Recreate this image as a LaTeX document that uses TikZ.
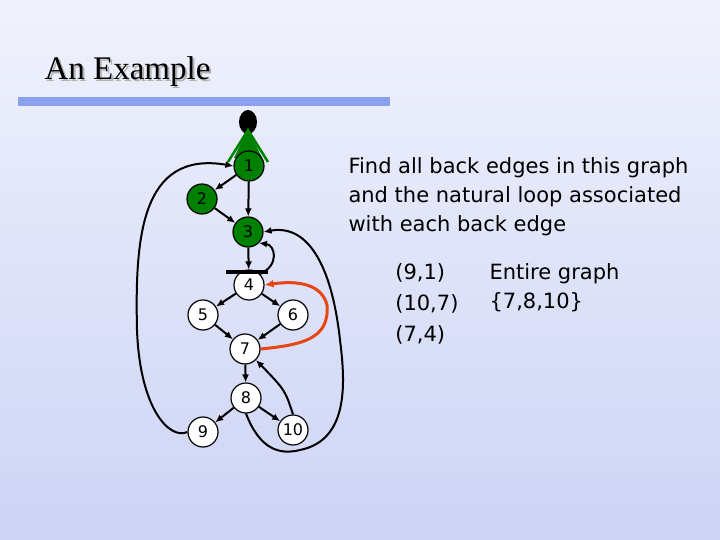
\documentclass[tikz,border=0pt]{standalone}
\usepackage{fontspec}
\setmainfont{Liberation Serif}
\newfontfamily\tah{DejaVu Sans}
\usetikzlibrary{arrows.meta}
\definecolor{gr}{RGB}{0,128,0}
\definecolor{bar}{RGB}{140,160,240}
\definecolor{top}{RGB}{240,242,252}
\definecolor{bot}{RGB}{205,212,245}
\definecolor{rd}{RGB}{230,70,20}
\begin{document}
\begin{tikzpicture}[x=1pt,y=-1pt,
  nd/.style={circle,draw=black,line width=1.2pt,minimum size=30pt,inner sep=0pt,font=\tah\fontsize{16}{16}\selectfont},
  gn/.style={nd,fill=gr},
  wn/.style={nd,fill=white},
  ed/.style={-{Latex[length=8pt,width=7pt]},line width=2pt}]
\shade[top color=top,bottom color=bot] (0,0) rectangle (720,540);
\useasboundingbox (0,0) rectangle (720,540);
\node[anchor=west,font=\fontsize{33}{33}\selectfont,text=gray!60] at (43,74) {An Example};
\node[anchor=west,font=\fontsize{33}{33}\selectfont] (title) at (41,72) {An Example};
\fill[bar] (18,97) rectangle (390,106);
\fill[black] (248,122) ellipse (9 and 12);
\fill[gr] (248,128) -- (262,158) -- (234,158) -- cycle;
\draw[gr,line width=2.5pt] (228,162) -- (248,130) -- (268,162);
\node[gn] (n1) at (249,166) {1};
\node[gn] (n2) at (202,199) {2};
\node[gn] (n3) at (248,232) {3};
\node[wn] (n4) at (249,285) {4};
\node[wn] (n5) at (203,315) {5};
\node[wn] (n6) at (293,315) {6};
\node[wn] (n7) at (245,349) {7};
\node[wn] (n8) at (246,398) {8};
\node[wn] (n9) at (203,432) {9};
\node[wn] (n10) at (293,430) {10};
\coordinate (b1) at (226,272); \coordinate (b2) at (268,272);
\draw[line width=3.5pt] (b1) -- (b2);
\draw[ed] (n1) -- (n2);
\draw[ed] (n1) -- (n3);
\draw[ed] (n2) -- (n3);
\draw[ed] (n3) -- (n4);
\draw[ed] (n4) -- (n5);
\draw[ed] (n4) -- (n6);
\draw[ed] (n5) -- (n7);
\draw[ed] (n6) -- (n7);
\draw[ed] (n7) -- (n8);
\draw[ed] (n8) -- (n9);
\draw[ed] (n8) -- (n10);
\draw[ed] (n10.north) .. controls (285,390) .. (n7.south east);
\draw[ed] (n4.north east) .. controls (280,265) and (275,245) .. (n3.south east);
\draw[ed] (n9.west) .. controls (170,440) and (140,410) .. (137,330) .. controls (135,240) and (140,150) .. (n1.west);
\draw[ed] (n8.south) .. controls (260,450) and (280,455) .. (300,450) .. controls (350,440) and (345,380) .. (340,340) .. controls (330,250) and (300,225) .. (n3.east);
\draw[-{Latex[length=9pt,width=8pt]},rd,line width=3pt] (n7.east) .. controls (300,345) and (330,340) .. (327,305) .. controls (322,285) and (300,280) .. (n4.east);
\node[anchor=north west,align=left,font=\tah\fontsize{21}{29}\selectfont] (q) at (345,154) {Find all back edges in this graph\\and the natural loop associated\\with each back edge};
\node[anchor=north east,align=left,font=\tah\fontsize{21}{31}\selectfont] (a1) at (462,260) {(9,1)\\(10,7)\\(7,4)};
\node[anchor=north west,align=left,font=\tah\fontsize{21}{29}\selectfont] (a2) at (486,260) {Entire graph\\\{7,8,10\}};
\end{tikzpicture}
\end{document}
